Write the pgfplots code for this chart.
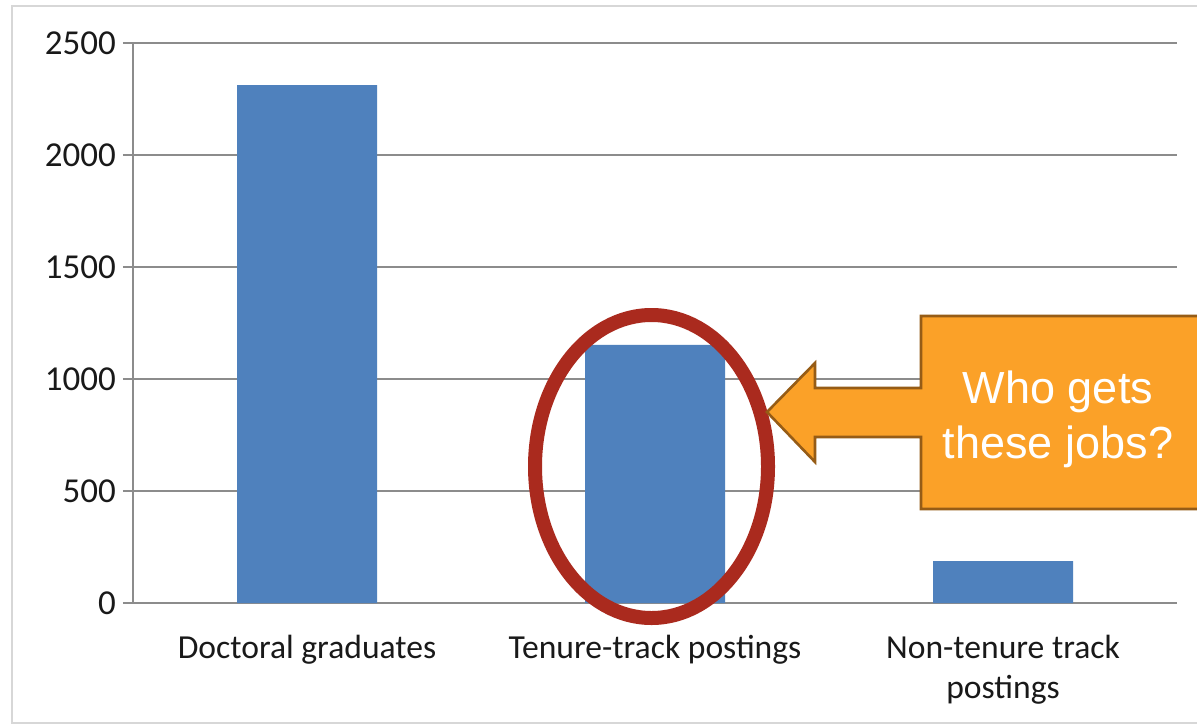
\documentclass[border=0pt]{standalone}
\usepackage{pgfplots}
\pgfplotsset{compat=1.18}
\usepackage{fontspec}
\setmainfont{Carlito}
\newfontfamily\callfont{Liberation Sans}
\definecolor{barblue}{RGB}{79,129,189}
\definecolor{gridc}{RGB}{140,140,140}
\definecolor{framec}{RGB}{215,215,215}
\definecolor{ellred}{RGB}{170,42,30}
\definecolor{callfill}{RGB}{251,161,40}
\definecolor{calldraw}{RGB}{150,92,22}
\definecolor{txt}{RGB}{25,25,25}
\begin{document}
\begin{tikzpicture}[x=0.5pt,y=0.5pt]
\path[use as bounding box] (0,0) rectangle (1197,725);
\clip (0,0) rectangle (1197,725);
\fill[white] (0,0) rectangle (1197,725);
\draw[framec, line width=1pt] (1210,719) -- (12,719) -- (12,2) -- (1210,2);
\begin{axis}[
  at={(66.5pt,61pt)}, anchor=south west,
  scale only axis, width=522pt, height=280pt,
  xmin=-0.5, xmax=2.5, ymin=0, ymax=2500,
  ytick={0,500,1000,1500,2000,2500},
  xtick={0,1,2},
  xticklabels={Doctoral graduates, Tenure-track postings, {Non-tenure track\\postings}},
  axis x line*=bottom, axis y line*=left,
  axis line style={gridc, line width=0.9pt},
  ymajorgrids, grid style={gridc, line width=0.9pt},
  major x tick style={draw=none},
  ytick style={gridc, line width=0.9pt},
  tick align=outside, major tick length=5pt,
  extra x ticks={-0.5,0.5,1.5,2.5}, extra x tick labels={},
  extra x tick style={grid=none, major x tick style={gridc, line width=0.9pt}, major tick length=5pt},
  xticklabel style={align=center, anchor=north, font=\fontsize{16.8}{20}\selectfont, text=txt, yshift=-7.5pt},
  yticklabel style={anchor=east, font=\fontsize{17.5}{20}\selectfont, text=txt},
  /pgf/number format/assume math mode=true,
  /pgf/number format/1000 sep={},
  clip=false,
]
\addplot[ybar, bar width=70pt, fill=barblue, draw=none] coordinates {(0,2312) (1,1152) (2,187)};
\end{axis}
\draw[ellred, line width=7pt] (651.5,258.5) ellipse [x radius=116.5, y radius=151.5];
\filldraw[fill=callfill, draw=calldraw, line width=1.3pt, line join=miter]
  (1210,409) -- (921,409) -- (921,337) -- (815,337) -- (815,362) -- (767,313)
  -- (815,263) -- (815,288) -- (921,288) -- (921,216) -- (1210,216);
\node[text=white, font=\callfont\fontsize{22.5}{27.5}\selectfont, align=center]
  at (1058,306) {Who gets\\these jobs?};
\end{tikzpicture}
\end{document}
